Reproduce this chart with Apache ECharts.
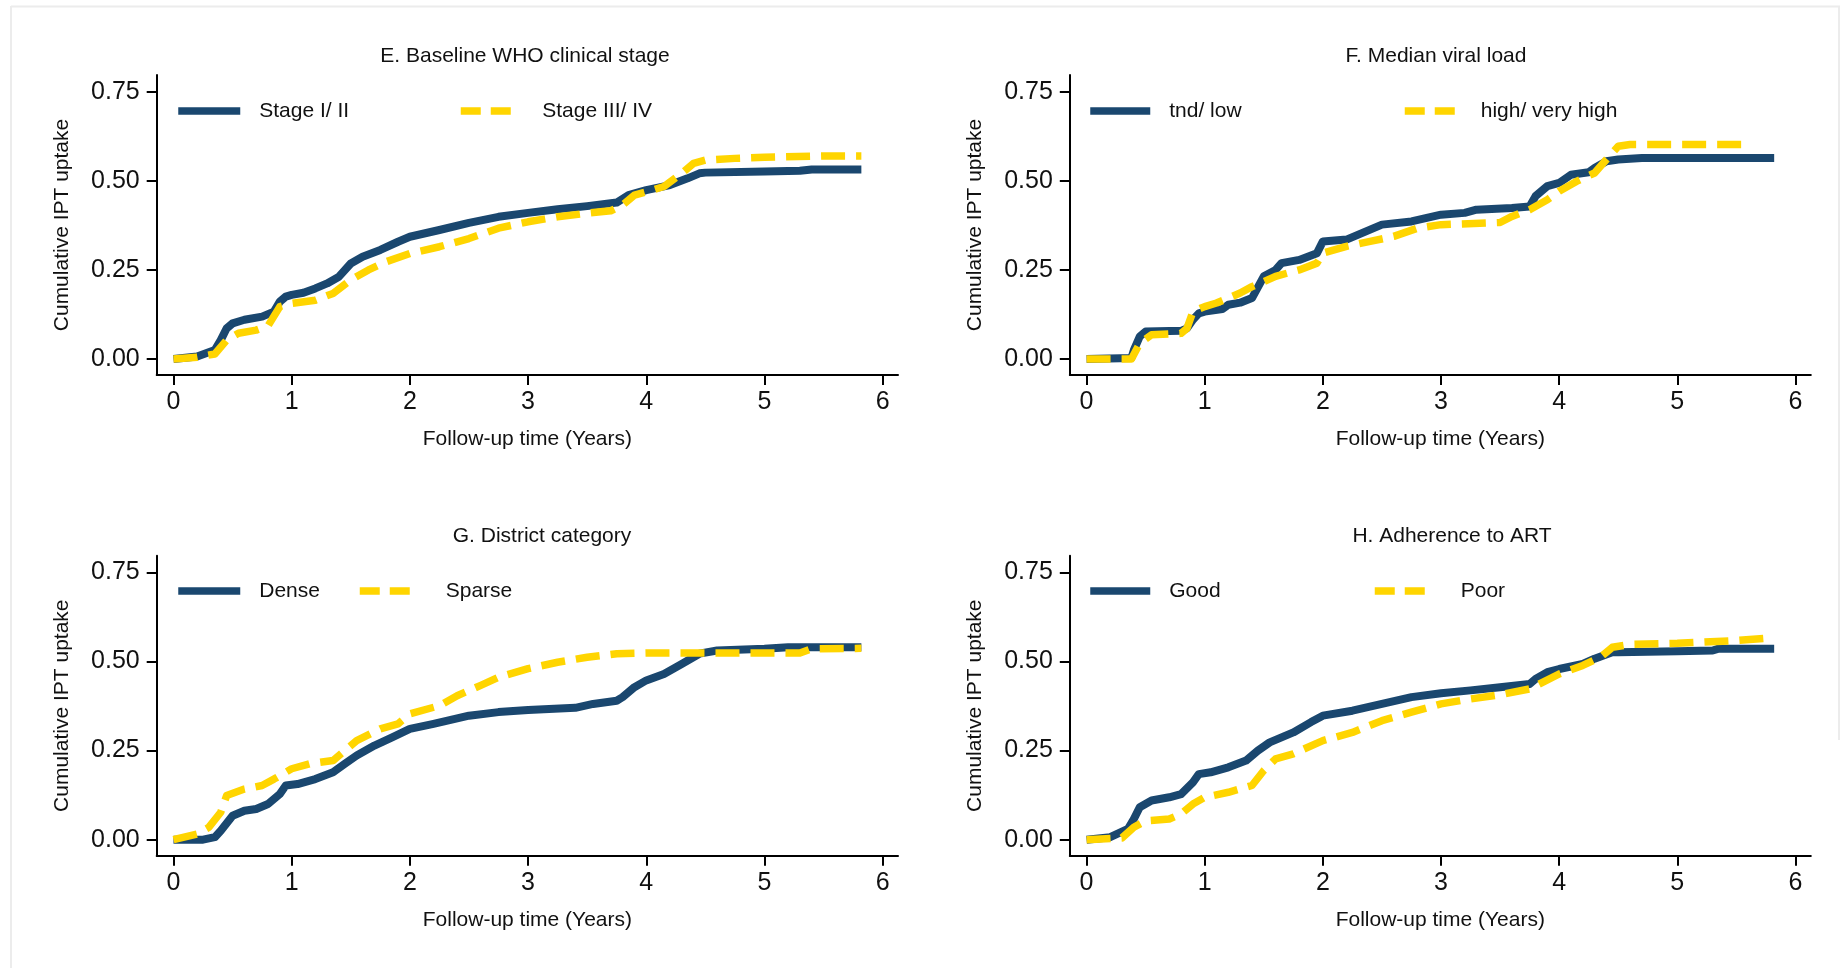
<!DOCTYPE html>
<html>
<head>
<meta charset="utf-8">
<script src="https://cdn.jsdelivr.net/npm/echarts@6/dist/echarts.min.js"></script>
<style>
html,body{margin:0;padding:0;background:#fff;}
#chart{width:1840px;height:968px;}
</style>
</head>
<body>
<div id="chart"></div>
<script>
// ---------- Data ----------
const panelTitles = ['E. Baseline WHO clinical stage', 'F. Median viral load', 'G. District category', 'H. Adherence to ART'];
const xTitle = 'Follow-up time (Years)';
const yTitle = 'Cumulative IPT uptake';
const xTicks = [0, 1, 2, 3, 4, 5, 6];
const yTicks = [0, 0.25, 0.5, 0.75];

// E. Baseline WHO clinical stage
const E_names = ['Stage I/ II', 'Stage III/ IV'];
const E1_t = [0, 0.2, 0.35, 0.4, 0.45, 0.5, 0.6, 0.75, 0.85, 0.9, 0.95, 1.0, 1.1, 1.2, 1.3, 1.4, 1.5, 1.6, 1.75, 1.9, 2.0, 2.25, 2.5, 2.75, 3.0, 3.25, 3.5, 3.75, 3.85, 4.0, 4.2, 4.35, 4.45, 4.5, 5.0, 5.3, 5.4, 5.82];
const E1_v = [0, 0.007, 0.025, 0.053, 0.086, 0.10, 0.11, 0.119, 0.133, 0.161, 0.175, 0.18, 0.186, 0.198, 0.212, 0.231, 0.268, 0.287, 0.306, 0.329, 0.343, 0.362, 0.382, 0.399, 0.41, 0.42, 0.429, 0.439, 0.46, 0.474, 0.488, 0.507, 0.521, 0.523, 0.526, 0.528, 0.532, 0.532];
const E2_t = [0, 0.2, 0.35, 0.45, 0.55, 0.7, 0.8, 0.9, 1.0, 1.2, 1.35, 1.5, 1.65, 1.8, 2.0, 2.25, 2.5, 2.75, 3.0, 3.25, 3.5, 3.7, 3.8, 3.9, 4.0, 4.15, 4.3, 4.4, 4.5, 4.75, 5.0, 5.5, 5.82];
const E2_v = [0, 0.005, 0.014, 0.053, 0.072, 0.081, 0.093, 0.147, 0.156, 0.165, 0.184, 0.222, 0.25, 0.273, 0.296, 0.315, 0.338, 0.367, 0.385, 0.399, 0.409, 0.416, 0.432, 0.46, 0.469, 0.484, 0.521, 0.549, 0.558, 0.563, 0.566, 0.57, 0.57];

// F. Median viral load
const F_names = ['tnd/ low', 'high/ very high'];
const F1_t = [0, 0.38, 0.4, 0.45, 0.5, 0.8, 0.85, 0.9, 0.95, 1.0, 1.15, 1.2, 1.3, 1.4, 1.5, 1.6, 1.65, 1.8, 1.95, 2.0, 2.2, 2.3, 2.4, 2.5, 2.75, 3.0, 3.2, 3.3, 3.6, 3.75, 3.8, 3.9, 4.0, 4.1, 4.25, 4.3, 4.4, 4.5, 4.7, 5.82];
const F1_v = [0, 0.003, 0.025, 0.063, 0.077, 0.079, 0.086, 0.11, 0.128, 0.133, 0.14, 0.152, 0.158, 0.171, 0.232, 0.25, 0.269, 0.278, 0.297, 0.33, 0.335, 0.349, 0.363, 0.377, 0.386, 0.405, 0.41, 0.419, 0.424, 0.428, 0.457, 0.485, 0.494, 0.517, 0.524, 0.536, 0.555, 0.56, 0.564, 0.564];
const F2_t = [0, 0.38, 0.45, 0.55, 0.8, 0.85, 0.9, 1.0, 1.1, 1.2, 1.3, 1.4, 1.5, 1.6, 1.8, 1.95, 2.0, 2.2, 2.4, 2.6, 2.8, 3.0, 3.5, 3.6, 3.75, 3.9, 4.0, 4.15, 4.3, 4.4, 4.5, 4.6, 5.6];
const F2_v = [0, 0, 0.044, 0.068, 0.072, 0.086, 0.133, 0.147, 0.157, 0.171, 0.185, 0.203, 0.217, 0.232, 0.25, 0.269, 0.297, 0.316, 0.33, 0.344, 0.367, 0.377, 0.383, 0.4, 0.419, 0.447, 0.471, 0.499, 0.522, 0.56, 0.597, 0.602, 0.602];

// G. District category
const G_names = ['Dense', 'Sparse'];
const G1_t = [0, 0.25, 0.35, 0.4, 0.5, 0.6, 0.7, 0.8, 0.9, 0.95, 1.05, 1.2, 1.35, 1.45, 1.55, 1.7, 1.85, 2.0, 2.2, 2.5, 2.75, 3.0, 3.4, 3.55, 3.75, 3.8, 3.9, 4.0, 4.15, 4.3, 4.45, 4.6, 5.0, 5.2, 5.82];
const G1_v = [0, 0, 0.007, 0.025, 0.067, 0.081, 0.086, 0.1, 0.128, 0.152, 0.156, 0.17, 0.189, 0.213, 0.236, 0.264, 0.287, 0.311, 0.325, 0.348, 0.358, 0.364, 0.37, 0.381, 0.39, 0.4, 0.428, 0.447, 0.465, 0.493, 0.522, 0.531, 0.536, 0.54, 0.54];
const G2_t = [0, 0.2, 0.3, 0.4, 0.45, 0.6, 0.75, 0.85, 1.0, 1.15, 1.35, 1.45, 1.55, 1.75, 1.9, 2.0, 2.25, 2.4, 2.6, 2.75, 3.0, 3.25, 3.5, 3.75, 4.0, 4.5, 5.0, 5.3, 5.4, 5.82];
const G2_v = [0, 0.016, 0.035, 0.077, 0.124, 0.142, 0.152, 0.17, 0.199, 0.213, 0.222, 0.25, 0.278, 0.311, 0.325, 0.353, 0.376, 0.404, 0.433, 0.456, 0.48, 0.498, 0.512, 0.522, 0.524, 0.524, 0.524, 0.524, 0.536, 0.537];

// H. Adherence to ART
const H_names = ['Good', 'Poor'];
const H1_t = [0, 0.2, 0.35, 0.4, 0.45, 0.55, 0.7, 0.8, 0.9, 0.95, 1.05, 1.2, 1.35, 1.45, 1.55, 1.75, 1.9, 2.0, 2.25, 2.5, 2.75, 3.0, 3.25, 3.5, 3.75, 3.8, 3.9, 4.0, 4.2, 4.3, 4.45, 4.5, 5.0, 5.3, 5.35, 5.82];
const H1_v = [0, 0.007, 0.03, 0.058, 0.091, 0.11, 0.119, 0.128, 0.161, 0.184, 0.189, 0.203, 0.222, 0.25, 0.273, 0.301, 0.33, 0.348, 0.362, 0.381, 0.4, 0.411, 0.419, 0.428, 0.437, 0.451, 0.47, 0.479, 0.493, 0.508, 0.526, 0.526, 0.529, 0.531, 0.536, 0.536];
const H2_t = [0, 0.3, 0.4, 0.5, 0.7, 0.8, 0.9, 1.0, 1.2, 1.4, 1.5, 1.6, 1.75, 2.0, 2.25, 2.5, 2.75, 3.0, 3.25, 3.5, 3.75, 4.0, 4.2, 4.35, 4.45, 4.6, 5.0, 5.5, 5.82];
const H2_v = [0, 0.005, 0.035, 0.053, 0.058, 0.072, 0.1, 0.119, 0.133, 0.152, 0.194, 0.227, 0.241, 0.278, 0.301, 0.334, 0.358, 0.381, 0.395, 0.407, 0.423, 0.465, 0.489, 0.512, 0.54, 0.548, 0.551, 0.559, 0.567];

// ---------- Styling / layout ----------
const NAVY = '#1a476f';
const GOLD = '#ffd500';
const FONT = '"Liberation Sans", Arial, sans-serif';
const TXT = '#111';
const XMIN = -0.142, XMAX = 6.13;
const YMIN = -0.045, YMAX = 0.797;

const grids = [
  {left: 156.7, top: 75, width: 741.3, height: 300},
  {left: 1069.8, top: 75, width: 741.0, height: 300},
  {left: 156.7, top: 555.7, width: 741.3, height: 300},
  {left: 1069.8, top: 555.7, width: 741.0, height: 300}
];
const titlePos = [[525, 45.5], [1436, 45.5], [542, 525.5], [1452, 525.5]];
// legend item: [iconLeft, centerY, iconWidth, textGap]
const legendPos = [
  [[174.5, 112.5, 62, 14], [457, 112.5, 52, 24.5]],
  [[1086.5, 112.5, 60, 14], [1401, 112.5, 52, 19]],
  [[174.5, 592.5, 62, 14], [356, 592.5, 52, 29]],
  [[1086.5, 592.5, 60, 14], [1371, 592.5, 52, 29]]
];
const panels = [
  {names: E_names, s: [[E1_t, E1_v], [E2_t, E2_v]]},
  {names: F_names, s: [[F1_t, F1_v], [F2_t, F2_v]]},
  {names: G_names, s: [[G1_t, G1_v], [G2_t, G2_v]]},
  {names: H_names, s: [[H1_t, H1_v], [H2_t, H2_v]]}
];

const xAxes = [], yAxes = [], series = [], legends = [], titles = [];
panels.forEach((p, i) => {
  xAxes.push({
    type: 'value', gridIndex: i, min: XMIN, max: XMAX,
    name: xTitle, nameLocation: 'middle', nameGap: 54,
    nameTextStyle: {fontSize: 21, color: TXT, fontFamily: FONT},
    axisLine: {onZero: false, lineStyle: {color: '#000', width: 2}},
    axisTick: {show: true, length: 10, customValues: xTicks, lineStyle: {color: '#000', width: 2}},
    axisLabel: {customValues: xTicks, fontSize: 25, color: TXT, fontFamily: FONT, margin: 15,
      formatter: v => String(v)},
    splitLine: {show: false}
  });
  yAxes.push({
    type: 'value', gridIndex: i, min: YMIN, max: YMAX,
    name: yTitle, nameLocation: 'middle', nameGap: 84,
    nameTextStyle: {fontSize: 21, color: TXT, fontFamily: FONT},
    axisLine: {show: true, onZero: false, lineStyle: {color: '#000', width: 2}},
    axisTick: {show: true, length: 10, customValues: yTicks, lineStyle: {color: '#000', width: 2}},
    axisLabel: {customValues: yTicks, fontSize: 25, color: TXT, fontFamily: FONT, margin: 17,
      formatter: v => v.toFixed(2)},
    splitLine: {show: false}
  });
  titles.push({
    text: panelTitles[i], left: titlePos[i][0], top: titlePos[i][1], textAlign: 'center', padding: 0,
    textStyle: {fontSize: 21, fontWeight: 'normal', color: TXT, fontFamily: FONT}
  });
  p.s.forEach((s, j) => {
    const color = j === 0 ? NAVY : GOLD;
    const dash = j === 0 ? 'solid' : [24, 11];
    series.push({
      type: 'line', name: p.names[j], xAxisIndex: i, yAxisIndex: i,
      data: s[0].map((t, k) => [t, s[1][k]]),
      symbol: 'none', smooth: false, z: 2 + j,
      lineStyle: {color: color, width: j === 0 ? 8 : 7.5, type: dash, cap: 'butt', join: 'round'},
      itemStyle: {color: color},
      emphasis: {disabled: true}, animation: false
    });
    const lp = legendPos[i][j];
    legends.push({
      data: [p.names[j]], left: lp[0], top: lp[1] - 12, padding: 0,
      itemWidth: lp[2], itemHeight: 24, selectedMode: false,
      textStyle: {fontSize: 21, color: TXT, fontFamily: FONT, padding: [0, 0, 0, lp[3]]},
      lineStyle: {width: 7.5, type: j === 0 ? 'solid' : [20, 10], cap: 'butt'},
      itemStyle: {opacity: 0}
    });
  });
});

const chart = echarts.init(document.getElementById('chart'), null, {renderer: 'canvas'});
chart.setOption({
  backgroundColor: '#fff',
  animation: false,
  textStyle: {fontFamily: FONT},
  title: titles,
  legend: legends,
  grid: grids,
  xAxis: xAxes,
  yAxis: yAxes,
  series: series,
  graphic: [
    {type: 'line', shape: {x1: 11, y1: 6.5, x2: 1840, y2: 6.5}, style: {stroke: '#ececec', lineWidth: 2}, silent: true},
    {type: 'line', shape: {x1: 11, y1: 6, x2: 11, y2: 968}, style: {stroke: '#ececec', lineWidth: 2}, silent: true},
    {type: 'line', shape: {x1: 1839, y1: 6, x2: 1839, y2: 740}, style: {stroke: '#ececec', lineWidth: 2}, silent: true}
  ]
});
</script>
</body>
</html>
